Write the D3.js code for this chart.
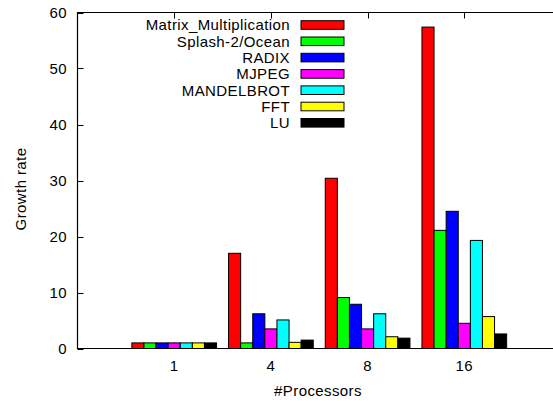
<!DOCTYPE html>
<html>
<head>
<meta charset="utf-8">
<script src="https://cdn.jsdelivr.net/npm/d3@7"></script>
<style>
  body { margin: 0; background: #fff; }
  svg { display: block; font-family: "Liberation Sans", Arial, sans-serif; }
  text { letter-spacing: 0.4px; }
</style>
</head>
<body>
<svg id="chart" width="553" height="401"></svg>
<script>
// processors on the x axis
const processors = ["1", "4", "8", "16"];
const benchmarks = ["Matrix_Multiplication", "Splash-2/Ocean", "RADIX", "MJPEG", "MANDELBROT", "FFT", "LU"];
const colors = ["#ff0000", "#00ff00", "#0000ff", "#ff00ff", "#00ffff", "#ffff00", "#000000"];

// growth rate per benchmark, one value per processor count
const matrixMult = [1, 17.0, 30.4, 57.4];
const ocean = [1, 1.0, 9.1, 21.1];
const radix = [1, 6.2, 7.9, 24.5];
const mjpeg = [1, 3.5, 3.5, 4.5];
const mandelbrot = [1, 5.1, 6.2, 19.3];
const fft = [1, 1.1, 2.1, 5.7];
const lu = [1, 1.5, 1.85, 2.6];
const series = [matrixMult, ocean, radix, mjpeg, mandelbrot, fft, lu];

const yTicks = [0, 10, 20, 30, 40, 50, 60];

const svg = d3.select("#chart");
const pLeft = 77.5, pTop = 12.5, pBottom = 348.5;
const fs = 15; // font size

// x in gnuplot-like units: category i sits at i+1, range 0..5
let x = d3.scaleLinear().domain([0, 5]).range([pLeft, pLeft + 5 * 96.7]);
let y = d3.scaleLinear().domain([0, 60]).range([pBottom, pTop]);
const bw = 12.1; // one bar, px

// ticks (inward, mirrored on top)
let tk = svg.append("g").attr("stroke", "#000").attr("stroke-width", 1);
yTicks.forEach(function(v) {
    tk.append("line").attr("x1", pLeft).attr("x2", pLeft + 6)
        .attr("y1", Math.round(y(v)) + 0.5).attr("y2", Math.round(y(v)) + 0.5);
});
processors.forEach(function(p, i) {
    let cx = Math.round(x(i + 1)) + 0.5;
    tk.append("line").attr("x1", cx).attr("x2", cx).attr("y1", pTop).attr("y2", pTop + 6);
    tk.append("line").attr("x1", cx).attr("x2", cx).attr("y1", pBottom).attr("y2", pBottom - 6);
});

// bars
series.forEach(function(vals, s) {
    svg.append("g").selectAll("rect")
        .data(vals)
        .enter().append("rect")
        .attr("x", function(d, i) { return x(i + 1) + (s - 3.5) * bw; })
        .attr("y", function(d) { return y(d); })
        .attr("width", bw)
        .attr("height", function(d) { return y(0) - y(d); })
        .attr("fill", colors[s])
        .attr("stroke", "#000")
        .attr("stroke-width", 1);
});

// frame: left, bottom, top
let frame = svg.append("g").attr("stroke", "#000").attr("stroke-width", 1.2).attr("fill", "none");
frame.append("path").attr("d", "M" + (pLeft + 600) + "," + pTop + "H" + pLeft + "V" + pBottom + "H" + (pLeft + 600));

// tick labels
svg.append("g").selectAll("text")
    .data(yTicks)
    .enter().append("text")
    .attr("x", 67)
    .attr("y", function(d) { return y(d) + 5.3; })
    .attr("text-anchor", "end")
    .attr("font-size", fs)
    .text(function(d) { return d; });

svg.append("g").selectAll("text")
    .data(processors)
    .enter().append("text")
    .attr("x", function(d, i) { return x(i + 1); })
    .attr("y", 370.5)
    .attr("text-anchor", "middle")
    .attr("font-size", fs)
    .text(function(d) { return d; });

// axis titles
svg.append("text")
    .attr("x", 318).attr("y", 395.5)
    .attr("text-anchor", "middle").attr("font-size", fs)
    .text("#Processors");
svg.append("text")
    .attr("transform", "translate(26,189) rotate(-90)")
    .attr("text-anchor", "middle").attr("font-size", fs)
    .text("Growth rate");

// legend
let lg = svg.append("g");
benchmarks.forEach(function(name, i) {
    let cy = 25 + i * 16.3;
    lg.append("text").attr("x", 290).attr("y", cy + 5.3)
        .attr("text-anchor", "end").attr("font-size", fs).text(name);
    lg.append("rect").attr("x", 301).attr("y", cy - 4.3)
        .attr("width", 43).attr("height", 8.6)
        .attr("fill", colors[i]).attr("stroke", "#000").attr("stroke-width", 1);
});
</script>
</body>
</html>
